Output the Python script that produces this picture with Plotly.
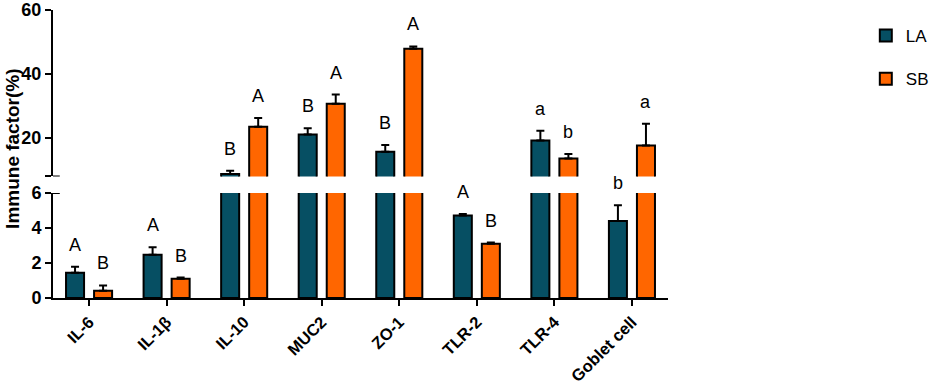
import plotly.graph_objects as go

categories = ["IL-6", "IL-1β", "IL-10", "MUC2", "ZO-1", "TLR-2", "TLR-4", "Goblet cell"]
la_mean = [1.45, 2.47, 8.75, 21.1, 15.7, 4.72, 19.25, 4.4]
la_err = [0.34, 0.43, 1.0, 2.0, 2.1, 0.08, 3.0, 0.9]
sb_mean = [0.42, 1.1, 23.5, 30.7, 47.9, 3.1, 13.6, 17.7]
sb_err = [0.30, 0.07, 2.8, 2.9, 0.7, 0.07, 1.4, 6.8]
la_letters = ["A", "A", "B", "B", "B", "A", "a", "b"]
sb_letters = ["B", "B", "A", "A", "A", "B", "b", "a"]

LA_COLOR = "#064F63"
SB_COLOR = "#FF6600"
FONT = "Arial, Liberation Sans, sans-serif"
BARGAP = 0.277
BARGROUPGAP = 0.357
LOW_MAX = 6
HIGH_MIN = 8

fig = go.Figure()

def add_pair(yaxis, show):
    for name, means, errs, color in [("LA", la_mean, la_err, LA_COLOR),
                                     ("SB", sb_mean, sb_err, SB_COLOR)]:
        fig.add_trace(go.Bar(
            x=categories, y=means, name=name, yaxis=yaxis, xaxis="x",
            marker=dict(color=color, line=dict(color="black", width=2)),
            error_y=dict(type="data", array=errs, arrayminus=[0]*len(errs),
                         symmetric=False, color="black", thickness=2, width=4),
            showlegend=show, legendgroup=name, offsetgroup=name,
        ))

add_pair("y", True)
add_pair("y2", False)

annotations = []
half = (1 - BARGAP) / 4
for i in range(len(categories)):
    for means, errs, letters, off in [(la_mean, la_err, la_letters, -half),
                                      (sb_mean, sb_err, sb_letters, half)]:
        top = means[i] + errs[i]
        yref = "y" if top <= LOW_MAX else "y2"
        annotations.append(dict(
            x=i + off, y=top, xref="x", yref=yref, text=letters[i],
            showarrow=False, yanchor="bottom", yshift=10,
            font=dict(family=FONT, size=18, color="black")))

annotations.append(dict(
    x=-0.067, y=0.517, xref="paper", yref="paper", text="<b>Immune factor(%)</b>",
    textangle=-90, showarrow=False, xanchor="center", yanchor="middle",
    font=dict(family=FONT, size=19, color="black")))

tickfont = dict(family=FONT, size=18, color="black")

fig.update_layout(
    width=935, height=387,
    margin=dict(l=53, r=267, t=10, b=89, autoexpand=False),
    paper_bgcolor="white", plot_bgcolor="white",
    barmode="group", bargap=BARGAP, bargroupgap=BARGROUPGAP,
    xaxis=dict(
        type="category", range=[-0.465, len(categories) - 0.535],
        showline=True, linecolor="black", linewidth=2,
        ticks="outside", ticklen=6, tickwidth=2, tickcolor="black",
        tickangle=-45, showgrid=False, zeroline=False, anchor="y",
        tickfont=dict(family=FONT, size=16.5, color="black"),
        tickvals=categories, ticktext=["<b>%s</b>" % c for c in categories],
    ),
    yaxis=dict(
        domain=[0, 0.3646], range=[0, LOW_MAX],
        tickvals=[0, 2, 4, 6], ticktext=["<b>0</b>", "<b>2</b>", "<b>4</b>", "<b>6</b>"],
        showline=True, linecolor="black", linewidth=2,
        ticks="outside", ticklen=6, tickwidth=2, tickcolor="black",
        showgrid=False, zeroline=False, tickfont=tickfont, anchor="x",
    ),
    yaxis2=dict(
        domain=[0.422, 1], range=[HIGH_MIN, 60],
        tickvals=[HIGH_MIN, 20, 40, 60], ticktext=["", "<b>20</b>", "<b>40</b>", "<b>60</b>"],
        showline=True, linecolor="black", linewidth=2,
        ticks="outside", ticklen=6, tickwidth=2, tickcolor="black",
        showgrid=False, zeroline=False, tickfont=tickfont, anchor="x",
    ),
    legend=dict(
        x=0.926, y=0.9535, xref="container", yref="container",
        xanchor="left", yanchor="top",
        font=dict(family=FONT, size=17, color="black"),
        tracegroupgap=18, bgcolor="rgba(0,0,0,0)",
    ),
    annotations=annotations,
)

# small tick crossing the axis at the inner ends of the broken axis
fig.add_shape(type="line", xref="x domain", yref="y2", x0=0, x1=0.011,
              y0=HIGH_MIN, y1=HIGH_MIN, line=dict(color="black", width=2))
fig.add_shape(type="line", xref="x domain", yref="y", x0=0, x1=0.011,
              y0=LOW_MAX, y1=LOW_MAX, line=dict(color="black", width=2))

fig.write_html(
    "out.html",
    config={"displayModeBar": False},
    post_script="document.body.style.margin='0px';document.body.style.overflow='hidden';",
)
